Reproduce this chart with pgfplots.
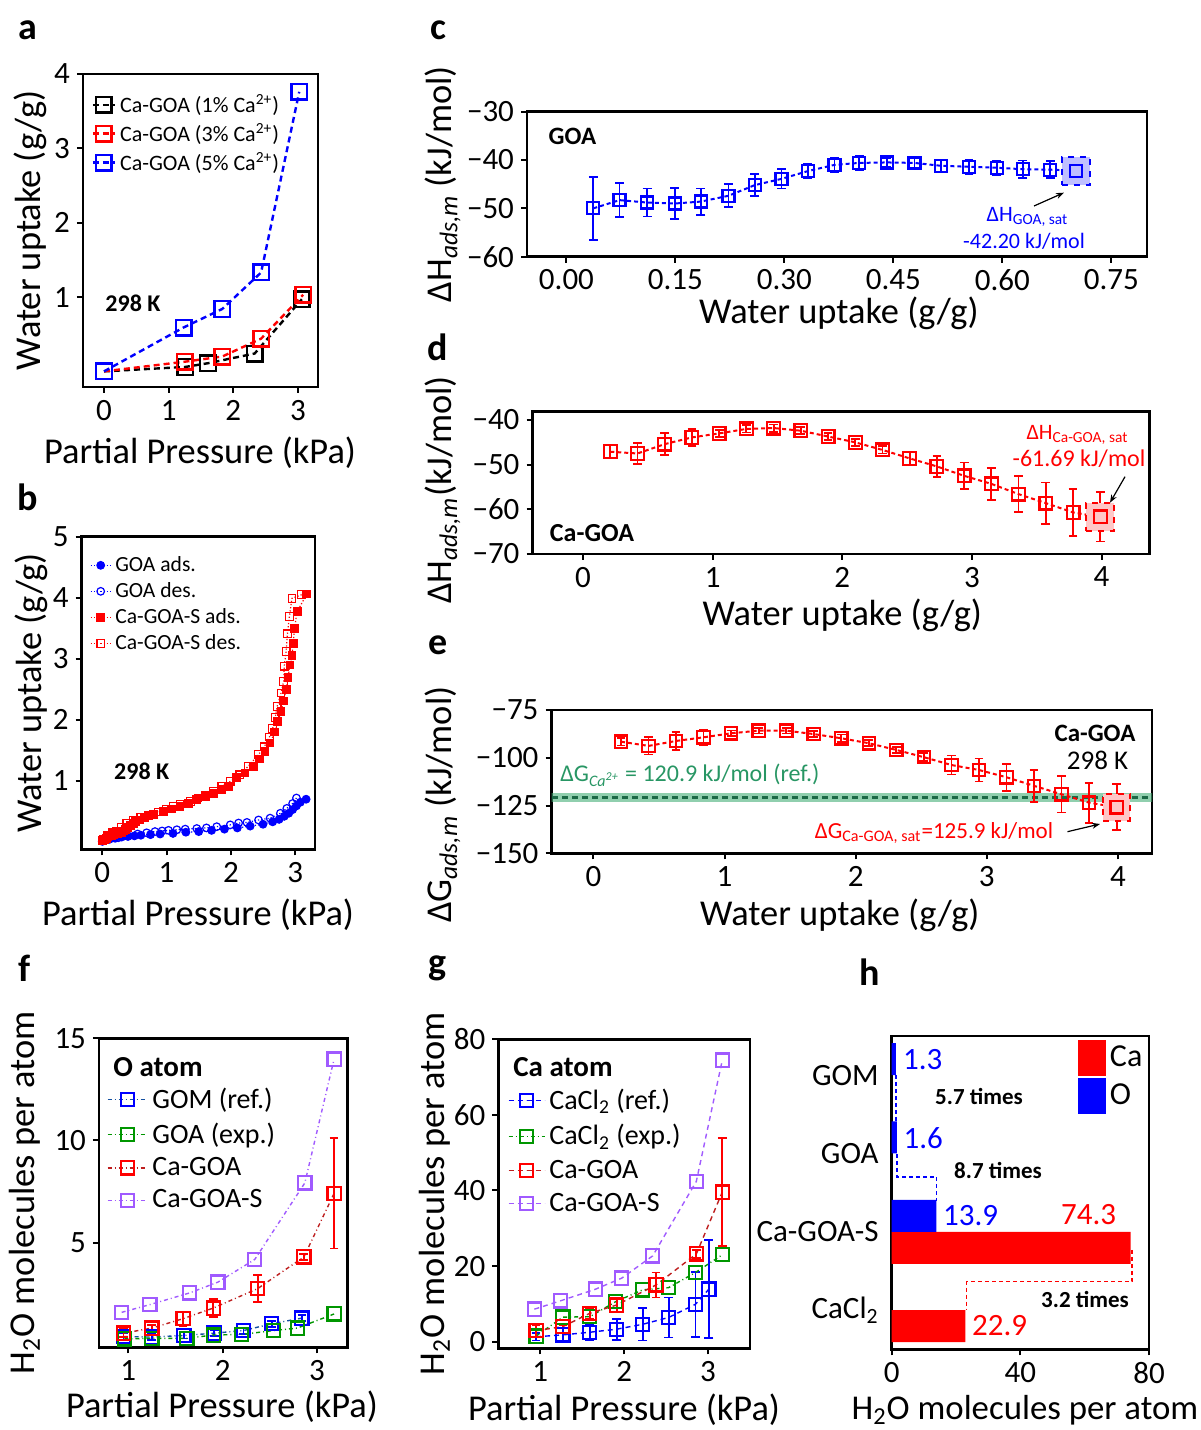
\documentclass[border=0pt]{standalone}
\usepackage{fontspec}
\setmainfont{Carlito}
\usepackage{pgfplots}
\pgfplotsset{compat=1.18}
\usetikzlibrary{arrows.meta}

\definecolor{cblue}{RGB}{0,0,255}
\definecolor{cred}{RGB}{255,0,0}
\definecolor{cgreen}{RGB}{0,150,0}
\definecolor{cpurple}{RGB}{160,90,255}
\definecolor{lblue}{RGB}{20,80,160}
\definecolor{lred}{RGB}{190,30,30}
\definecolor{bandgreen}{RGB}{70,175,120}
\definecolor{tgreen}{RGB}{40,150,100}

\newcommand{\fs}[1]{\fontsize{#1}{#1}\selectfont}

\pgfplotsset{
  panel/.style={
    scale only axis, anchor=north west,
    axis line style={line width=1.3pt},
    tick align=outside, xtick pos=bottom, ytick pos=left,
    major tick length=3pt,
    every tick/.style={black, line width=1pt},
    tick label style={font=\fs{15.5}},
    label style={font=\fs{18.2}},
    /pgf/number format/assume math mode=true,
    legend cell align=left,
    legend style={draw=none, fill=none, inner sep=0pt, outer sep=0pt},
  },
  ebar/.style={/pgfplots/error bars/.cd, y dir=both, y explicit,
    error bar style={line width=0.9pt, solid, #1},
    error mark options={rotate=90, mark size=2.2pt, line width=0.9pt, solid, #1}, /pgfplots/.cd},
  ebar/.default={},
  limg/.style={legend image code/.code={\draw[mark repeat=2,mark phase=2,##1] plot coordinates {(0pt,0pt) (#1,0pt) (2*#1,0pt)};}},
}

\begin{document}
\begin{tikzpicture}
\useasboundingbox (0,0) rectangle (600pt,715pt);

% ---------------- a ----------------
\begin{axis}[panel, at={(41.5pt,678pt)}, width=117.5pt, height=156.5pt,
  xmin=-0.325, xmax=3.31, ymin=-0.21, ymax=4,
  xtick={0,1,2,3}, ytick={1,2,3,4},
  xlabel={Partial Pressure (kPa)}, ylabel={Water uptake (g/g)},
  xlabel style={at={(axis description cs:0.498,-0.211)}, anchor=center},
  ylabel style={at={(axis description cs:-0.2255,0.5)}, anchor=center},
  limg=5.5pt,
  legend style={at={(axis description cs:0.037,0.948)}, anchor=north west, font=\fs{11}, row sep=0pt},
]
\addplot[black, line width=1.2pt, dash pattern=on 3pt off 2pt, mark=square, mark size=3.9pt, mark options={solid, line width=1.2pt}]
  coordinates {(0,0.0) (1.26,0.06) (1.61,0.11) (2.33,0.24) (3.06,0.97)};
\addlegendentry{Ca-GOA (1\% Ca\textsuperscript{2+})}
\addplot[cred, line width=1.2pt, dash pattern=on 3pt off 2pt, mark=square, mark size=3.9pt, mark options={solid, line width=1.2pt}]
  coordinates {(0,0.0) (1.25,0.13) (1.83,0.20) (2.43,0.44) (3.08,1.03)};
\addlegendentry{Ca-GOA (3\% Ca\textsuperscript{2+})}
\addplot[cblue, line width=1.2pt, dash pattern=on 3pt off 2pt, mark=square, mark size=3.9pt, mark options={solid, line width=1.2pt}]
  coordinates {(0,0.0) (1.23,0.59) (1.83,0.84) (2.43,1.33) (3.02,3.76)};
\addlegendentry{Ca-GOA (5\% Ca\textsuperscript{2+})}
\end{axis}

% ---------------- b ----------------
\begin{axis}[panel, at={(40.85pt,446.65pt)}, width=116.7pt, height=156.3pt,
  xmin=-0.32, xmax=3.31, ymin=-0.12, ymax=5,
  xtick={0,1,2,3}, ytick={1,2,3,4,5},
  xlabel={Partial Pressure (kPa)}, ylabel={Water uptake (g/g)},
  xlabel style={at={(axis description cs:0.4985,-0.21)}, anchor=center},
  ylabel style={at={(axis description cs:-0.217,0.5)}, anchor=center},
  limg=5pt,
  legend style={at={(axis description cs:0.036,0.95)}, anchor=north west, font=\fs{10.8}, row sep=0pt},
]
\addplot[cblue, line width=0.6pt, densely dotted, mark=*, mark size=1.9pt, mark options={solid}]
  coordinates {(0.00,0.01) (0.05,0.03) (0.12,0.05) (0.20,0.06) (0.30,0.08) (0.40,0.09) (0.50,0.10) (0.60,0.11) (0.75,0.12) (0.90,0.13) (1.10,0.14) (1.30,0.16) (1.50,0.17) (1.70,0.19) (1.90,0.21) (2.10,0.23) (2.30,0.26) (2.50,0.29) (2.65,0.33) (2.75,0.37) (2.83,0.42) (2.90,0.47) (2.96,0.53) (3.02,0.59) (3.08,0.65) (3.17,0.70)};
\addlegendentry{GOA ads.}
\addplot[cblue, line width=0.6pt, densely dotted, mark=o, mark size=1.9pt, mark options={solid, fill=white}]
  coordinates {(3.02,0.72) (2.96,0.63) (2.87,0.55) (2.77,0.47) (2.61,0.39) (2.43,0.36) (2.25,0.32) (2.12,0.31) (1.99,0.28) (1.78,0.25) (1.62,0.23) (1.47,0.22) (1.29,0.21) (1.16,0.20) (1.03,0.19) (0.93,0.18) (0.82,0.17) (0.69,0.15) (0.55,0.13) (0.40,0.10) (0.25,0.07) (0.10,0.04) (0.02,0.02)};
\addlegendentry{GOA des.}
\addplot[cred, line width=0.6pt, densely dotted, mark=square*, mark size=1.9pt, mark options={solid}]
  coordinates {(0.00,0.02) (0.03,0.04) (0.06,0.06) (0.09,0.08) (0.12,0.10) (0.15,0.11) (0.18,0.12) (0.21,0.13) (0.24,0.14) (0.27,0.15) (0.30,0.16) (0.33,0.18) (0.36,0.20) (0.40,0.23) (0.44,0.27) (0.48,0.30) (0.52,0.33) (0.58,0.36) (0.66,0.40) (0.80,0.45) (0.95,0.50) (1.08,0.54) (1.21,0.58) (1.34,0.63) (1.47,0.69) (1.60,0.74) (1.73,0.80) (1.85,0.86) (1.96,0.91) (2.09,1.05) (2.22,1.13) (2.35,1.24) (2.44,1.36) (2.53,1.48) (2.61,1.62) (2.68,1.80) (2.73,1.97) (2.78,2.14) (2.82,2.31) (2.86,2.50) (2.89,2.70) (2.92,2.90) (2.95,3.05) (2.97,3.25) (2.99,3.50) (3.03,3.77) (3.18,4.06)};
\addlegendentry{Ca-GOA-S ads.}
\addplot[cred, line width=0.6pt, densely dotted, mark=square, mark size=1.9pt, mark options={solid, fill=white}]
  coordinates {(3.10,4.05) (2.95,3.99) (2.91,3.69) (2.88,3.41) (2.86,3.12) (2.83,2.88) (2.82,2.63) (2.78,2.44) (2.72,2.22) (2.69,2.04) (2.65,1.86) (2.60,1.72) (2.52,1.56) (2.43,1.43) (2.27,1.24) (2.14,1.10) (1.99,0.99) (1.86,0.91) (1.73,0.83) (1.60,0.77) (1.49,0.72) (1.37,0.66) (1.21,0.62) (1.11,0.58) (1.00,0.54) (0.87,0.49) (0.72,0.43) (0.60,0.40) (0.48,0.35) (0.38,0.30) (0.30,0.24) (0.22,0.18) (0.15,0.15) (0.08,0.10) (0.02,0.05)};
\addlegendentry{Ca-GOA-S des.}
\end{axis}

% ---------------- c ----------------
\begin{axis}[panel, at={(263.5pt,659.15pt)}, width=310pt, height=72.5pt,
  xmin=-0.0543, xmax=0.799, ymin=-60, ymax=-30,
  xtick={0,0.15,0.3,0.45,0.6,0.75}, xticklabels={0.00,0.15,0.30,0.45,0.60,0.75},
  ytick={-60,-50,-40,-30}, yticklabels={−60,−50,−40,−30},
  xlabel={Water uptake (g/g)}, ylabel={ΔH\textsubscript{\itshape ads,m} (kJ/mol)},
  xlabel style={at={(axis description cs:0.503,-0.388)}, anchor=center},
  ylabel style={at={(axis description cs:-0.136,0.5)}, anchor=center},
]
\addplot[only marks, mark=square*, mark size=7pt, mark options={draw=cblue, fill=cblue!25, dashed, line width=1pt}]
  coordinates {(0.701,-42.2)};
\addplot[cblue, line width=1pt, dash pattern=on 2pt off 1.5pt, mark=square, mark size=3pt, mark options={solid, line width=1.1pt}, ebar]
  table[x=x, y=y, y error=e] {
x y e
0.037 -50.0 6.5
0.073 -48.3 3.5
0.111 -48.8 2.9
0.149 -49.0 3.2
0.185 -48.6 2.7
0.223 -47.4 2.4
0.259 -45.2 2.3
0.296 -43.9 2.0
0.332 -42.3 1.5
0.369 -41.0 1.5
0.403 -40.6 1.5
0.441 -40.5 1.0
0.479 -40.6 1.0
0.516 -41.2 1.2
0.554 -41.4 1.5
0.592 -41.6 1.5
0.628 -41.9 1.8
0.666 -42.0 1.8
0.701 -42.2 1.5
};
\end{axis}

% ---------------- d ----------------
\begin{axis}[panel, at={(266.25pt,509.15pt)}, width=308.5pt, height=71.15pt,
  xmin=-0.39, xmax=4.37, ymin=-70, ymax=-38.14,
  xtick={0,1,2,3,4},
  ytick={-70,-60,-50,-40}, yticklabels={−70,−60,−50,−40},
  xlabel={Water uptake (g/g)}, ylabel={ΔH\textsubscript{\itshape ads,m}(kJ/mol)},
  xlabel style={at={(axis description cs:0.502,-0.429)}, anchor=center},
  ylabel style={at={(axis description cs:-0.146,0.45)}, anchor=center},
]
\addplot[only marks, mark=square*, mark size=7pt, mark options={draw=cred, fill=cred!22, dashed, line width=1pt}]
  coordinates {(3.99,-61.69)};
\addplot[cred, line width=1pt, dash pattern=on 2pt off 1.5pt, mark=square, mark size=3.2pt, mark options={solid, line width=1.1pt}, ebar]
  table[x=x, y=y, y error=e] {
x y e
0.21 -47.1 1.5
0.42 -47.5 2.4
0.63 -45.4 2.4
0.84 -43.9 1.9
1.05 -43.0 0.8
1.26 -42.0 0.8
1.47 -41.8 0.8
1.68 -42.4 0.8
1.89 -43.7 0.8
2.10 -45.0 0.8
2.31 -46.7 0.8
2.52 -48.6 1.5
2.73 -50.4 2.4
2.94 -52.5 3.0
3.15 -54.3 3.6
3.36 -56.6 4.0
3.57 -58.6 4.6
3.78 -60.7 5.3
3.99 -61.69 5.5
};
\end{axis}

% ---------------- e ----------------
\begin{axis}[panel, at={(275.75pt,360pt)}, width=300.25pt, height=71.65pt,
  xmin=-0.32, xmax=4.26, ymin=-150, ymax=-75,
  xtick={0,1,2,3,4},
  ytick={-150,-125,-100,-75}, yticklabels={−150,−125,−100,−75},
  xlabel={Water uptake (g/g)}, ylabel={ΔG\textsubscript{\itshape ads,m} (kJ/mol)},
  xlabel style={at={(axis description cs:0.48,-0.43)}, anchor=center},
  ylabel style={at={(axis description cs:-0.1815,0.34)}, anchor=center},
]
\addplot[draw=none, fill=bandgreen, fill opacity=0.6] coordinates {(-1,-118.6) (5,-118.6) (5,-123.3) (-1,-123.3)} -- cycle;
\addplot[tgreen!70!black, line width=1.2pt, dash pattern=on 3pt off 2pt] coordinates {(-1,-120.9) (5,-120.9)};
\addplot[only marks, mark=square*, mark size=6.7pt, mark options={draw=cred, fill=cred!22, dashed, line width=1pt}]
  coordinates {(3.99,-125.9)};
\addplot[cred, line width=1pt, dash pattern=on 2pt off 1.5pt, mark=square, mark size=3.1pt, mark options={solid, line width=1.1pt}, ebar]
  table[x=x, y=y, y error=e] {
x y e
0.21 -91.6 2.0
0.42 -93.8 4.5
0.63 -91.2 4.6
0.84 -89.3 3.9
1.05 -87.2 1.5
1.26 -85.8 1.5
1.47 -85.8 1.5
1.68 -87.6 1.5
1.89 -89.8 2.0
2.10 -92.4 1.5
2.31 -95.9 1.5
2.52 -99.7 2.0
2.73 -103.8 5.0
2.94 -106.4 6.0
3.15 -110.2 7.0
3.36 -114.7 8.5
3.57 -119.1 9.5
3.78 -123.5 10.5
3.99 -125.9 12.0
};
\end{axis}

% ---------------- f ----------------
\begin{axis}[panel, at={(49.5pt,195.85pt)}, width=124.15pt, height=154.5pt,
  xmin=0.69, xmax=3.32, ymin=-0.12, ymax=15,
  xtick={1,2,3}, ytick={5,10,15},
  xlabel={Partial Pressure (kPa)}, ylabel={H\textsubscript{2}O molecules per atom},
  xlabel style={at={(axis description cs:0.495,-0.192)}, anchor=center},
  ylabel style={at={(axis description cs:-0.298,0.5)}, anchor=center},
  limg=10pt,
  legend style={at={(axis description cs:0.032,0.852)}, anchor=north west, font=\fs{14}, row sep=1.6pt},
]
\addplot[lblue, line width=0.7pt, dash pattern=on 2pt off 1.5pt on 0.5pt off 1.5pt, mark=square, mark size=3.3pt, mark options={cblue, solid, line width=1.1pt}, ebar=cblue]
  table[x=x, y=y, y error=e] {
x y e
0.95 0.41 0.15
1.25 0.38 0.15
1.59 0.46 0.15
1.91 0.57 0.15
2.22 0.70 0.15
2.52 1.03 0.15
2.84 1.31 0.15
};
\addlegendentry{GOM (ref.)}
\addplot[cgreen, line width=0.7pt, dash pattern=on 2pt off 1.5pt on 0.5pt off 1.5pt, mark=square, mark size=3.3pt, mark options={solid, line width=1.1pt}]
  coordinates {(0.96,0.29) (1.25,0.32) (1.62,0.32) (1.90,0.48) (2.20,0.51) (2.54,0.70) (2.79,0.82) (3.18,1.51)};
\addlegendentry{GOA (exp.)}
\addplot[lred, line width=0.7pt, dash pattern=on 2pt off 1.5pt on 0.5pt off 1.5pt, mark=square, mark size=3.3pt, mark options={cred, solid, line width=1.1pt}, ebar=cred]
  table[x=x, y=y, y error=e] {
x y e
0.95 0.57 0.20
1.25 0.82 0.15
1.58 1.28 0.35
1.90 1.80 0.45
2.37 2.75 0.65
2.86 4.30 0.15
3.18 7.41 2.70
};
\addlegendentry{Ca-GOA}
\addplot[cpurple, line width=0.7pt, dash pattern=on 2pt off 1.5pt on 0.5pt off 1.5pt, mark=square, mark size=3.3pt, mark options={solid, line width=1.1pt}]
  coordinates {(0.93,1.59) (1.23,1.97) (1.65,2.54) (1.95,3.07) (2.34,4.18) (2.87,7.92) (3.18,13.98)};
\addlegendentry{Ca-GOA-S}
\end{axis}

% ---------------- g ----------------
\begin{axis}[panel, at={(249.15pt,195.35pt)}, width=125.85pt, height=154.5pt,
  xmin=0.5, xmax=3.5, ymin=-1.75, ymax=80,
  xtick={1,2,3}, ytick={0,20,40,60,80},
  xlabel={Partial Pressure (kPa)}, ylabel={H\textsubscript{2}O molecules per atom},
  xlabel style={at={(axis description cs:0.4995,-0.2)}, anchor=center},
  ylabel style={at={(axis description cs:-0.2515,0.5)}, anchor=center},
  limg=9pt,
  legend style={at={(axis description cs:0.0385,0.852)}, anchor=north west, font=\fs{14}, row sep=2pt},
]
\addplot[cblue, line width=0.7pt, dash pattern=on 2.5pt off 2pt, mark=square, mark size=3.3pt, mark options={solid, line width=1.1pt}, ebar]
  table[x=x, y=y, y error=e] {
x y e
0.95 1.3 1.0
1.27 1.8 1.8
1.59 2.5 2.0
1.91 3.3 2.8
2.22 4.6 4.3
2.53 6.4 5.3
2.85 9.9 8.6
3.01 13.9 13.0
};
\addlegendentry{CaCl\textsubscript{2} (ref.)}
\addplot[cgreen, line width=0.7pt, dash pattern=on 2pt off 1.5pt on 0.5pt off 1.5pt, mark=square, mark size=3.3pt, mark options={solid, line width=1.1pt}]
  coordinates {(0.95,1.5) (1.27,6.5) (1.59,6.6) (1.90,10.6) (2.22,13.7) (2.53,14.3) (2.85,18.3) (3.17,23.0)};
\addlegendentry{CaCl\textsubscript{2} (exp.)}
\addplot[lred, line width=0.7pt, dash pattern=on 2.5pt off 2pt, mark=square, mark size=3.3pt, mark options={cred, solid, line width=1.1pt}, ebar=cred]
  table[x=x, y=y, y error=e] {
x y e
0.95 2.9 1.5
1.27 4.0 0.5
1.59 7.5 1.5
1.91 9.7 2.0
2.38 15.0 3.3
2.86 23.2 1.0
3.17 39.6 14.3
};
\addlegendentry{Ca-GOA}
\addplot[cpurple, line width=0.7pt, dash pattern=on 2.5pt off 2pt, mark=square, mark size=3.3pt, mark options={solid, line width=1.1pt}]
  coordinates {(0.93,8.6) (1.24,10.8) (1.66,13.9) (1.97,16.8) (2.34,22.7) (2.86,42.4) (3.17,74.5)};
\addlegendentry{Ca-GOA-S}
\end{axis}

% ---------------- h ----------------
\begin{axis}[panel, at={(445.85pt,197pt)}, width=128.65pt, height=156.65pt,
  xmin=0, xmax=80, ymin=0.5, ymax=4.5,
  xtick={0,40,80}, ytick={1,2,3,4},
  yticklabels={CaCl\textsubscript{2},Ca-GOA-S,GOA,GOM},
  y tick label style={font=\fs{15.5}}, ytick style={draw=none},
  xlabel={H\textsubscript{2}O molecules per atom},
  xlabel style={font=\fs{17.4}, at={(axis description cs:0.518,-0.195)}, anchor=center},
  legend image code/.code={\fill[#1,/tikz/.cd,draw=none] (0pt,-9pt) rectangle (14pt,9pt);},
  legend style={at={(axis description cs:0.724,0.987)}, anchor=north west, font=\fs{16}, row sep=1pt},
]
\addplot[xbar, bar width=16pt, bar shift=-8pt, fill=cred, draw=none]
  coordinates {(74.3,2) (22.9,1)};
\addlegendentry{Ca}
\addplot[xbar, bar width=16pt, bar shift=8pt, fill=cblue, draw=none]
  coordinates {(1.3,4) (1.6,3) (13.9,2)};
\addlegendentry{O}
\end{axis}

% ---------------- annotations (pixel coordinates) ----------------
\begin{scope}[yshift=715pt, x=0.5pt, y=-0.5pt]
\node[font=\bfseries\fs{19}] at (28,30) {a};
\node[font=\bfseries\fs{19}] at (28,497) {b};
\node[font=\bfseries\fs{19}] at (438,30) {c};
\node[font=\bfseries\fs{19}] at (438,347) {d};
\node[font=\bfseries\fs{19}] at (438,645) {e};
\node[font=\bfseries\fs{19}] at (25,968) {f};
\node[font=\bfseries\fs{19}] at (438,968) {g};
\node[font=\bfseries\fs{19}] at (870,972) {h};

\node[font=\bfseries\fs{12}] at (133,303) {298 K};
\node[font=\bfseries\fs{12}] at (141.7,771.7) {298 K};

\node[font=\bfseries\fs{12.5}] at (572.5,136.7) {GOA};
\node[font=\fs{11}, text=cblue] at (1027.5,216.7) {ΔH\textsubscript{GOA, sat}};
\node[font=\fs{11}, text=cblue] at (1024,241.7) {-42.20 kJ/mol};
\draw[-{Stealth[length=4pt]}, line width=0.6pt] (1034,206) -- (1064,192.7);

\node[font=\bfseries\fs{13}] at (592,533) {Ca-GOA};
\node[font=\fs{11}, text=cred] at (1077.5,435) {ΔH\textsubscript{Ca-GOA, sat}};
\node[font=\fs{12}, text=cred] at (1079,459) {-61.69 kJ/mol};
\draw[-{Stealth[length=4pt]}, line width=0.6pt] (1125,476.7) -- (1110,502.7);

\node[font=\bfseries\fs{12.5}] at (1095,733) {Ca-GOA};
\node[font=\fs{13.5}] at (1097.5,760) {298 K};
\node[font=\fs{12}, text=tgreen, anchor=west, inner sep=0pt] at (560,775) {ΔG\textsubscript{\itshape Ca\textsuperscript{2+}} = 120.9 kJ/mol (ref.)};
\node[font=\fs{11.5}, text=cred] at (934,833) {ΔG\textsubscript{Ca-GOA, sat}=125.9 kJ/mol};
\draw[-{Stealth[length=4pt]}, line width=0.6pt] (1067.5,831.7) -- (1100,824);

\node[font=\bfseries\fs{14.5}, anchor=west, inner sep=0pt] at (113,1066.7) {O atom};
\node[font=\bfseries\fs{14.5}, anchor=west, inner sep=0pt] at (513,1067) {Ca atom};

\node[font=\fs{15.5}, text=cblue, anchor=west, inner sep=0pt] at (902.7,1060) {1.3};
\node[font=\fs{15.5}, text=cblue, anchor=west, inner sep=0pt] at (903.3,1138) {1.6};
\node[font=\fs{15.5}, text=cblue, anchor=west, inner sep=0pt] at (942.7,1216) {13.9};
\node[font=\fs{15.5}, text=cred, anchor=west, inner sep=0pt] at (1060.7,1215) {74.3};
\node[font=\fs{15.5}, text=cred, anchor=west, inner sep=0pt] at (971.7,1325.7) {22.9};
\node[font=\bfseries\fs{11.5}] at (979,1097) {5.7 times};
\node[font=\bfseries\fs{11.5}] at (998,1171) {8.7 times};
\node[font=\bfseries\fs{11.5}] at (1085,1299) {3.2 times};
\draw[cblue, line width=0.7pt, dash pattern=on 2pt off 1.5pt] (896,1075) -- (896,1122);
\draw[cblue, line width=0.7pt, dash pattern=on 2pt off 1.5pt] (897,1154) -- (897,1177) -- (936.7,1177) -- (936.7,1200.7);
\draw[cred, line width=0.7pt, dash pattern=on 2pt off 1.5pt] (1132,1250) -- (1132,1281.7) -- (966.7,1281.7) -- (966.7,1310);
\end{scope}
\end{tikzpicture}
\end{document}
